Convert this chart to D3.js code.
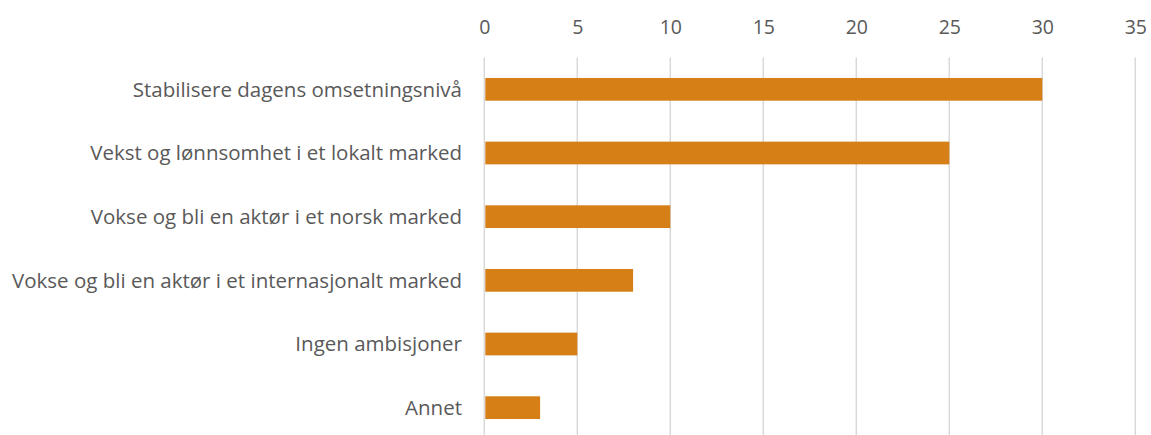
<!DOCTYPE html>
<html>
<head>
<meta charset="utf-8">
<script src="https://cdn.jsdelivr.net/npm/d3@7"></script>
<style>
  html, body { margin: 0; padding: 0; background: #fff; overflow: hidden; }
  text { font-family: "Open Sans", "Noto Sans", sans-serif; fill: #595959; }
</style>
</head>
<body>
<svg id="chart" width="1151" height="435"></svg>
<script>
// Ambisjoner for virksomheten (antall svar)
const categories = [
  "Stabilisere dagens omsetningsnivå",
  "Vekst og lønnsomhet i et lokalt marked",
  "Vokse og bli en aktør i et norsk marked",
  "Vokse og bli en aktør i et internasjonalt marked",
  "Ingen ambisjoner",
  "Annet"
];
const values = [30, 25, 10, 8, 5, 3];
const tickValues = [0, 5, 10, 15, 20, 25, 30, 35];

const svg = d3.select("#chart");
const margin = { left: 484.3, right: 1135.3, top: 57.5, bottom: 439.5 };

const x = d3.scaleLinear().domain([0, 35]).range([margin.left, margin.right]);
const y = d3.scaleBand().domain(categories).range([margin.top, margin.bottom])
  .paddingInner(0.643).paddingOuter(0.3215);

// vertical gridlines
svg.append("g").selectAll("line").data(tickValues).join("line")
  .attr("x1", d => x(d)).attr("x2", d => x(d))
  .attr("y1", margin.top).attr("y2", margin.bottom)
  .attr("stroke", "#d9d9d9").attr("stroke-width", 1.5);

// top axis labels
const xAxis = d3.axisTop(x).tickValues(tickValues).tickSize(0).tickPadding(0);
const gx = svg.append("g").attr("transform", "translate(0,34)").call(xAxis);
gx.select(".domain").remove();
gx.selectAll("text").attr("font-size", 19.5).attr("dy", 0)
  .style("font-family", '"Open Sans", "Noto Sans", sans-serif').attr("fill", "#595959");

// bars
svg.append("g").selectAll("rect").data(values).join("rect")
  .attr("x", x(0) + 1)
  .attr("y", (d, i) => y(categories[i]))
  .attr("width", d => x(d) - x(0) - 1)
  .attr("height", y.bandwidth())
  .attr("fill", "#d67f17");

// category labels
svg.append("g").selectAll("text").data(categories).join("text")
  .attr("x", 462)
  .attr("y", d => y(d) + y.bandwidth() / 2)
  .attr("dy", "0.35em")
  .attr("text-anchor", "end")
  .attr("font-size", 20.5)
  .text(d => d);
</script>
</body>
</html>
